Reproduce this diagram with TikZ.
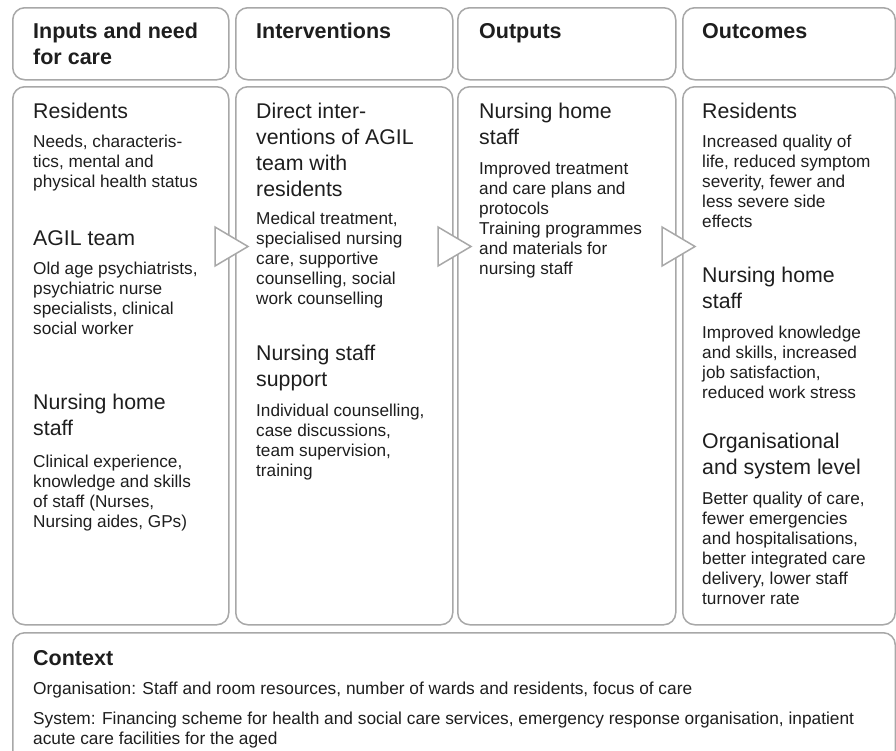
\documentclass[tikz,border=0pt]{standalone}
\usepackage{fontspec}
\setmainfont{Liberation Sans}
\definecolor{lc}{HTML}{A8A8A8}
\definecolor{tc}{HTML}{1E1E1E}
\begin{document}
\begin{tikzpicture}[x=1pt,y=-1pt,
 panel/.style={draw=lc, line width=1.5pt, rounded corners=12pt, fill=white, anchor=north west, inner sep=0pt},
 hd/.style={anchor=north west, inner sep=0pt, align=left, text=tc, font=\fontsize{21.5}{26}\selectfont\bfseries},
 ttl/.style={anchor=north west, inner sep=0pt, align=left, text=tc, font=\fontsize{21.3}{26}\selectfont},
 dsc/.style={anchor=north west, inner sep=0pt, align=left, text=tc, font=\fontsize{17.2}{20}\selectfont},
 ctx/.style={anchor=north west, inner sep=0pt, align=left, text=tc, font=\fontsize{17.3}{20}\selectfont},
 tri/.style={draw=lc, line width=1.5pt, fill=white, line join=miter}]
\path[use as bounding box, clip] (0,0) rectangle (896,750);
\fill[white] (0,0) rectangle (896,750);
% header boxes
\node[panel, minimum width=216pt, minimum height=72pt] (h1) at (12,7) {};
\node[panel, minimum width=217pt, minimum height=72pt] (h2) at (235,7) {};
\node[panel, minimum width=218pt, minimum height=72pt] (h3) at (457,7) {};
\node[panel, minimum width=212.5pt, minimum height=72pt] (h4) at (682,7) {};
% body boxes
\node[panel, minimum width=216pt, minimum height=538pt] (b1) at (12,86) {};
\node[panel, minimum width=217pt, minimum height=538pt] (b2) at (235,86) {};
\node[panel, minimum width=218pt, minimum height=538pt] (b3) at (457,86) {};
\node[panel, minimum width=212.5pt, minimum height=538pt] (b4) at (682,86) {};
% context box
\node[panel, minimum width=882.5pt, minimum height=130pt] (cb) at (12,632) {};
% arrows
\draw[tri] (215,227) -- (248,246.5) -- (215,266) -- cycle;
\draw[tri] (438,227) -- (471,246.5) -- (438,266) -- cycle;
\draw[tri] (662,227) -- (695,246.5) -- (662,266) -- cycle;
% headers
\node[hd] (hd1) at (33,23) {Inputs and need\\for care};
\node[hd] (hd2) at (256,23) {Interventions};
\node[hd] (hd3) at (479,23) {Outputs};
\node[hd] (hd4) at (702,23) {Outcomes};
% column 1
\node[ttl] (t1a) at (33,103) {Residents};
\node[dsc] (d1a) at (33,134.5) {Needs, characteris-\\tics, mental and\\physical health status};
\node[ttl] (t1b) at (33,230) {AGIL team};
\node[dsc] (d1b) at (33,261.5) {Old age psychiatrists,\\psychiatric nurse\\specialists, clinical\\social worker};
\node[ttl] (t1c) at (33,394) {Nursing home\\staff};
\node[dsc] (d1c) at (33,454.5) {Clinical experience,\\knowledge and skills\\of staff (Nurses,\\Nursing aides, GPs)};
% column 2
\node[ttl] (t2a) at (256,103) {Direct inter-\\ventions of AGIL\\team with\\residents};
\node[dsc] (d2a) at (256,211.5) {Medical treatment,\\specialised nursing\\care, supportive\\counselling, social\\work counselling};
\node[ttl] (t2b) at (256,345) {Nursing staff\\support};
\node[dsc] (d2b) at (256,403.5) {Individual counselling,\\case discussions,\\team supervision,\\training};
% column 3
\node[ttl] (t3a) at (479,103) {Nursing home\\staff};
\node[dsc] (d3a) at (479,161.5) {Improved treatment\\and care plans and\\protocols\\Training programmes\\and materials for\\nursing staff};
% column 4
\node[ttl] (t4a) at (702,103) {Residents};
\node[dsc] (d4a) at (702,134.5) {Increased quality of\\life, reduced symptom\\severity, fewer and\\less severe side\\effects};
\node[ttl] (t4b) at (702,267) {Nursing home\\staff};
\node[dsc] (d4b) at (702,325.5) {Improved knowledge\\and skills, increased\\job satisfaction,\\reduced work stress};
\node[ttl] (t4c) at (702,433) {Organisational\\and system level};
\node[dsc] (d4c) at (702,491.5) {Better quality of care,\\fewer emergencies\\and hospitalisations,\\better integrated care\\delivery, lower staff\\turnover rate};
% context
\node[hd] (ctt) at (33,650) {Context};
\node[ctx] (c1) at (33,681.5) {Organisation: Staff and room resources, number of wards and residents, focus of care};
\node[ctx] (c2) at (33,711.5) {System: Financing scheme for health and social care services, emergency response organisation, inpatient\\acute care facilities for the aged};
\end{tikzpicture}
\end{document}
